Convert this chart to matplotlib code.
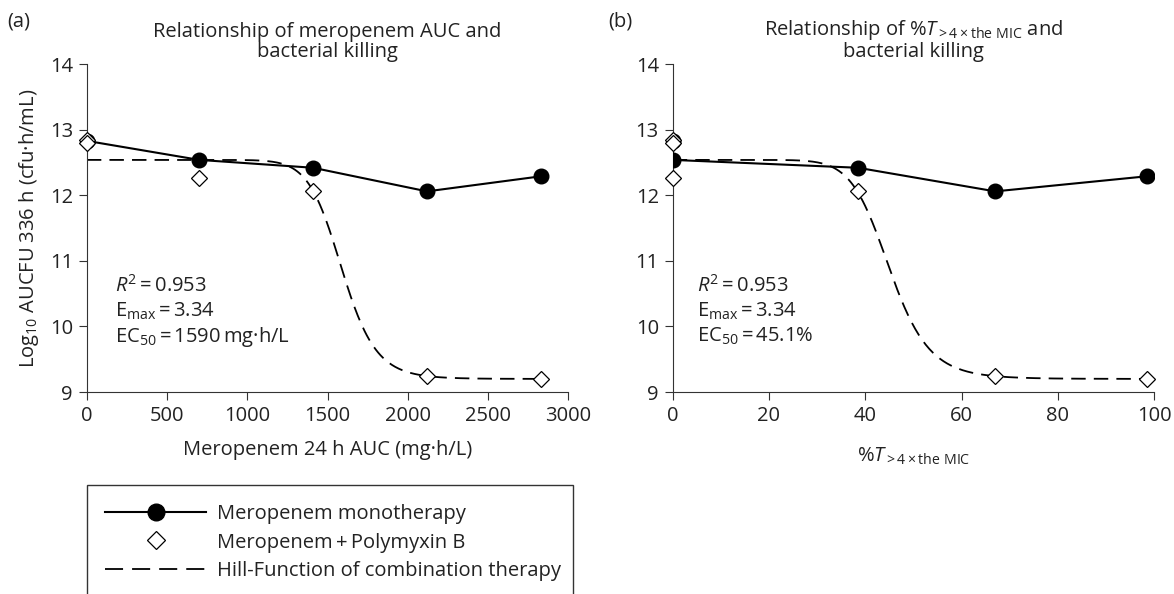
import numpy as np
import matplotlib.pyplot as plt
import matplotlib.patches as patches
from matplotlib.lines import Line2D

plt.rcParams['font.family'] = ['Open Sans', 'DejaVu Sans']
plt.rcParams['mathtext.fontset'] = 'custom'
plt.rcParams['mathtext.rm'] = 'Open Sans'
plt.rcParams['mathtext.it'] = 'Open Sans:italic'

# panel (a): meropenem 24 h AUC
auc_mono = [0, 700, 1410, 2120, 2830]
cfu_mono_a = [12.83, 12.54, 12.42, 12.06, 12.29]
auc_combo = [0, 0, 700, 1410, 2120, 2830]
cfu_combo_a = [12.85, 12.80, 12.27, 12.06, 9.24, 9.20]

# panel (b): %T>4xMIC
t_mono = [0, 0, 38.5, 67, 98.5]
cfu_mono_b = [12.83, 12.54, 12.42, 12.06, 12.29]
t_combo = [0, 0, 0, 38.5, 67, 98.5]
cfu_combo_b = [12.85, 12.80, 12.27, 12.06, 9.24, 9.20]

# Hill-function parameters (E0, Emax, EC50, gamma)
e0 = 12.54
emax = 3.34
ec50_a, gamma_a = 1590, 15
ec50_b, gamma_b = 45.1, 11


def hill(x, ec50, gamma):
    x = np.asarray(x, dtype=float)
    return e0 - emax * x**gamma / (ec50**gamma + x**gamma)


fig = plt.figure(figsize=(11.74, 5.94), dpi=100)
ax_a = fig.add_axes([0.074, 0.34, 0.410, 0.552])
ax_b = fig.add_axes([0.573, 0.34, 0.410, 0.552])

dash = (0, (8, 4.5))
fs = 14.5
ink = '#222222'


def draw(ax, xm, ym, xc, yc, ec50, gamma, xmax):
    xs = np.linspace(0, xc[-1], 400)
    ax.plot(xs, hill(xs, ec50, gamma), color='black', lw=1.3, linestyle=dash, zorder=2)
    ax.plot(xm, ym, color='black', lw=1.5, marker='o', markersize=10.5, zorder=3)
    ax.plot(xc, yc, linestyle='none', marker='D', markersize=8, mfc='white',
            mec='black', mew=0.9, zorder=4, clip_on=False)
    ax.set_xlim(0, xmax)
    ax.set_ylim(9, 14)
    ax.set_yticks([9, 10, 11, 12, 13, 14])
    for s in ['top', 'right']:
        ax.spines[s].set_visible(False)
    for s in ['left', 'bottom']:
        ax.spines[s].set_color('#333333')
    ax.tick_params(labelsize=fs, length=6, color='#333333', labelcolor=ink, pad=4)


draw(ax_a, auc_mono, cfu_mono_a, auc_combo, cfu_combo_a, ec50_a, gamma_a, 3000)
draw(ax_b, t_mono, cfu_mono_b, t_combo, cfu_combo_b, ec50_b, gamma_b, 100)
ax_a.set_xticks(range(0, 3001, 500))
ax_b.set_xticks(range(0, 101, 20))

ax_a.set_ylabel(r'Log$_{10}$ AUCFU 336 h (cfu·h/mL)', fontsize=fs, labelpad=6, color=ink)
ax_a.set_xlabel('Meropenem 24 h AUC (mg·h/L)', fontsize=fs, labelpad=10, color=ink)
ax_b.set_xlabel(r'%$\mathit{T}_{\mathregular{>4\times the\ MIC}}$', fontsize=fs,
                labelpad=14, color=ink)

ax_a.set_title('Relationship of meropenem AUC and\nbacterial killing', fontsize=fs,
               pad=5, linespacing=1.0, color=ink)
ax_b.set_title('Relationship of %$\\mathit{T}_{\\mathregular{>4\\times the\\ MIC}}$ and\nbacterial killing',
               fontsize=fs, pad=5, linespacing=1.0, color=ink)
fig.text(0.006, 0.955, '(a)', fontsize=fs, color=ink)
fig.text(0.518, 0.955, '(b)', fontsize=fs, color=ink)

stats_a = ['$\\mathit{R}^2$\u2009=\u20090.953', 'E$_{\\mathregular{max}}$\u2009=\u20093.34',
           'EC$_{50}$\u2009=\u20091590\u2009mg·h/L']
stats_b = ['$\\mathit{R}^2$\u2009=\u20090.953', 'E$_{\\mathregular{max}}$\u2009=\u20093.34',
           'EC$_{50}$\u2009=\u200945.1%']
for ax, stats, x0 in ((ax_a, stats_a, 0.058), (ax_b, stats_b, 0.05)):
    for i, s in enumerate(stats):
        ax.text(x0, 0.325 - i * 0.078, s, transform=ax.transAxes, fontsize=fs,
                va='center', color=ink)

# legend box
box = patches.Rectangle((0.074, -0.05), 0.414, 0.233, transform=fig.transFigure,
                        fill=False, edgecolor='#333333', lw=1.0)
fig.add_artist(box)
handles = [
    Line2D([], [], color='black', lw=1.5, marker='o', markersize=12),
    Line2D([], [], linestyle='none', marker='D', markersize=9, mfc='white', mec='black', mew=0.9),
    Line2D([], [], color='black', lw=1.3, linestyle=(0, (10, 5))),
]
labels = ['Meropenem monotherapy', 'Meropenem\u2009+\u2009Polymyxin B',
          'Hill-Function of combination therapy']
leg = fig.legend(handles, labels, loc='upper left', bbox_to_anchor=(0.083, 0.165),
                 frameon=False, fontsize=fs, handlelength=5.0, labelspacing=0.42,
                 handletextpad=0.55, borderaxespad=0)
for t in leg.get_texts():
    t.set_color(ink)

fig.savefig('out.png', dpi=100)
